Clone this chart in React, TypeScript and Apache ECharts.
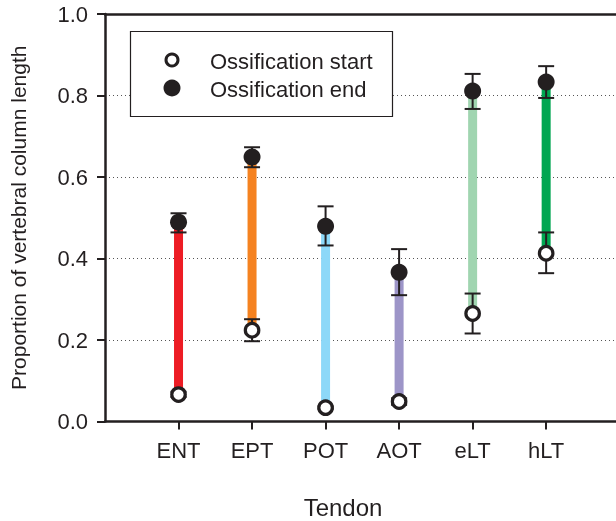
import React, { useEffect, useRef } from "react";
import * as echarts from "echarts";

const categories = ["ENT", "EPT", "POT", "AOT", "eLT", "hLT"];
const startMean = [0.066, 0.224, 0.034, 0.049, 0.265, 0.413];
const startLow = [0.06, 0.197, 0.031, 0.041, 0.216, 0.364];
const startHigh = [0.073, 0.251, 0.037, 0.057, 0.314, 0.464];
const endMean = [0.489, 0.649, 0.479, 0.366, 0.811, 0.833];
const endLow = [0.464, 0.624, 0.432, 0.31, 0.767, 0.794];
const endHigh = [0.511, 0.673, 0.528, 0.423, 0.853, 0.872];
const barColors = ["#ed1c24", "#f58220", "#8dd8f8", "#9d95c8", "#a0d5b0", "#00a651"];
const yTicks = [0, 0.2, 0.4, 0.6, 0.8, 1.0];
const legendLabels = ["Ossification start", "Ossification end"];

const INK = "#231f20";
const FONT = "Liberation Sans, Arial, sans-serif";

export default function App() {
  const ref = useRef<HTMLDivElement>(null);
  useEffect(() => {
    if (!ref.current) return;
    const chart = echarts.init(ref.current, undefined, { renderer: "svg" });
    const xs = categories.map((_, i) => i + 1);

    const barData = xs.map((x, i) => [x, startMean[i], endMean[i], i]);
    const errData: number[][] = [];
    xs.forEach((x, i) => {
      errData.push([x, startLow[i], startHigh[i]]);
      errData.push([x, endLow[i], endHigh[i]]);
    });

    chart.setOption({
      animation: false,
      grid: { left: 105, right: 0, top: 14, bottom: 99.5 },
      xAxis: [
        {
          type: "value",
          min: 0,
          max: 6.95,
          interval: 1,
          splitLine: { show: false },
          axisLine: { show: true, lineStyle: { color: INK, width: 2.5 } },
          axisTick: {
            show: true,
            length: 8,
            lineStyle: { color: INK, width: 2 },
            customValues: xs,
          },
          axisLabel: {
            customValues: xs,
            margin: 18,
            color: INK,
            fontFamily: FONT,
            fontSize: 22,
            formatter: (v: number) => categories[Math.round(v) - 1] ?? "",
          },
        },
        {
          type: "value",
          position: "top",
          min: 0,
          max: 6.95,
          axisLine: { show: true, onZero: false, lineStyle: { color: INK, width: 2.5 } },
          axisTick: { show: false },
          axisLabel: { show: false },
          splitLine: { show: false },
        },
      ],
      yAxis: {
        type: "value",
        min: 0,
        max: 1,
        interval: 0.2,
        name: "Proportion of vertebral column length",
        nameLocation: "middle",
        nameGap: 76,
        nameTextStyle: { color: INK, fontFamily: FONT, fontSize: 21 },
        axisLine: { show: true, lineStyle: { color: INK, width: 2.5 } },
        axisTick: { show: true, length: 8, lineStyle: { color: INK, width: 2 } },
        axisLabel: {
          margin: 17,
          color: INK,
          fontFamily: FONT,
          fontSize: 22,
          formatter: (v: number) => (yTicks.some((t) => Math.abs(t - v) < 1e-9) ? v.toFixed(1) : ""),
        },
        splitLine: {
          show: true,
          lineStyle: { color: "#555", width: 1, type: [1, 3] },
        },
      },
      graphic: [
        {
          type: "rect",
          shape: { x: 130.5, y: 31.5, width: 262, height: 85 },
          style: { fill: "#fff", stroke: INK, lineWidth: 1.2 },
          z: 10,
        },
        {
          type: "circle",
          shape: { cx: 172, cy: 60, r: 6 },
          style: { fill: "#fff", stroke: INK, lineWidth: 3 },
          z: 11,
        },
        {
          type: "circle",
          shape: { cx: 172, cy: 88, r: 8.5 },
          style: { fill: INK },
          z: 11,
        },
        {
          type: "text",
          x: 210,
          y: 61,
          style: {
            text: legendLabels[0],
            fill: INK,
            font: `22px ${FONT}`,
            verticalAlign: "middle",
          },
          z: 11,
        },
        {
          type: "text",
          x: 210,
          y: 89,
          style: {
            text: legendLabels[1],
            fill: INK,
            font: `22px ${FONT}`,
            verticalAlign: "middle",
          },
          z: 11,
        },
        {
          type: "text",
          x: 343,
          y: 507,
          style: {
            text: "Tendon",
            fill: INK,
            font: `24px ${FONT}`,
            align: "center",
            verticalAlign: "middle",
          },
        },
      ],
      series: [
        {
          type: "custom",
          xAxisIndex: 0,
          data: barData,
          z: 2,
          renderItem: (params: any, api: any) => {
            const x = api.value(0);
            const p0 = api.coord([x, api.value(1)]);
            const p1 = api.coord([x, api.value(2)]);
            const idx = api.value(3);
            const w = 9;
            return {
              type: "rect",
              shape: { x: p0[0] - w / 2, y: p1[1], width: w, height: p0[1] - p1[1] },
              style: { fill: barColors[idx] },
            };
          },
        },
        {
          type: "custom",
          xAxisIndex: 0,
          data: errData,
          z: 3,
          renderItem: (params: any, api: any) => {
            const x = api.value(0);
            const lo = api.coord([x, api.value(1)]);
            const hi = api.coord([x, api.value(2)]);
            const cw = 8;
            const st = { stroke: INK, lineWidth: 2 };
            return {
              type: "group",
              children: [
                { type: "line", shape: { x1: lo[0], y1: lo[1], x2: hi[0], y2: hi[1] }, style: st },
                { type: "line", shape: { x1: lo[0] - cw, y1: lo[1], x2: lo[0] + cw, y2: lo[1] }, style: st },
                { type: "line", shape: { x1: hi[0] - cw, y1: hi[1], x2: hi[0] + cw, y2: hi[1] }, style: st },
              ],
            };
          },
        },
        {
          type: "scatter",
          name: legendLabels[0],
          xAxisIndex: 0,
          data: xs.map((x, i) => [x, startMean[i]]),
          symbol: "circle",
          symbolSize: 13.5,
          itemStyle: { color: "#fff", borderColor: INK, borderWidth: 3.2, opacity: 1 },
          z: 4,
        },
        {
          type: "scatter",
          name: legendLabels[1],
          xAxisIndex: 0,
          data: xs.map((x, i) => [x, endMean[i]]),
          symbol: "circle",
          symbolSize: 17,
          itemStyle: { color: INK, opacity: 1 },
          z: 4,
        },
      ],
    });
    return () => chart.dispose();
  }, []);
  return (
    <div
      ref={ref}
      style={{ position: "fixed", left: 0, top: 0, width: 616, height: 521 }}
    />
  );
}
